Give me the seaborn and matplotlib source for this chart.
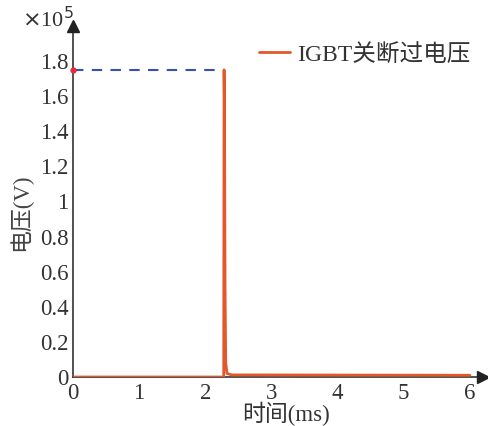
import matplotlib
matplotlib.use("Agg")
import matplotlib.pyplot as plt
import seaborn as sns
import numpy as np
import pandas as pd

# Data (time in ms, voltage in 1e5 V)
time_ms = [0.0, 2.28, 2.285, 2.29, 2.295, 2.30, 2.31, 2.33, 2.40, 6.0]
voltage = [0.0, 0.0, 1.75, 1.6, 1.1, 0.5, 0.08, 0.02, 0.012, 0.01]
peak_time = [0.0, 2.285]
peak_level = [1.75, 1.75]
xticks = [0, 1, 2, 3, 4, 5, 6]
yticks = [0, 0.2, 0.4, 0.6, 0.8, 1, 1.2, 1.4, 1.6, 1.8]
ytick_labels = ["0", "0.2", "0.4", "0.6", "0.8", "1", "1.2", "1.4", "1.6", "1.8"]

sns.set_style("white")
plt.rcParams['font.family'] = ['Liberation Serif', 'Noto Sans CJK SC']
plt.rcParams['axes.unicode_minus'] = False

fig = plt.figure(figsize=(4.89, 4.26), dpi=100)
ax = fig.add_axes([0.149, 0.115, 0.839, 0.824])

df = pd.DataFrame({"t": time_ms, "v": voltage})
sns.lineplot(data=df, x="t", y="v", ax=ax, color="#E4572A", lw=2.0,
             label="IGBT关断过电压", zorder=3)
ax.plot(peak_time, peak_level, linestyle=(0, (5, 4)), color="#3A50B0", lw=1.5, zorder=2)
ax.plot([0], [1.75], "o", color="#E8283C", ms=3.5, clip_on=False, zorder=5)

ax.set_xlim(0, 6.2)
ax.set_ylim(0, 2.0)
ax.set_xticks(xticks)
ax.set_xticklabels([str(x) for x in xticks])
ax.set_yticks(yticks)
ax.set_yticklabels(ytick_labels)

for s in ["top", "right"]:
    ax.spines[s].set_visible(False)
for s in ["left", "bottom"]:
    ax.spines[s].set_color("#333333")
    ax.spines[s].set_linewidth(1.2)

ax.tick_params(axis="both", direction="in", length=4, width=1, color="#333333",
               labelsize=16.5, labelcolor="#333333", pad=3)
ax.tick_params(axis="x", pad=4)

# Arrows at axis ends
ax.plot(1, 0, ">", color="#222222", ms=9, transform=ax.transAxes, clip_on=False, zorder=6)
ax.plot(0, 1, "^", color="#222222", ms=9, transform=ax.transAxes, clip_on=False, zorder=6)

ax.set_xlabel("时间(ms)", fontsize=16.5, color="#333333")
ax.xaxis.set_label_coords(0.52, -0.07)
ax.set_ylabel("电压(V)", fontsize=16.5, color="#444444")
ax.yaxis.set_label_coords(-0.10, 0.47)

fig.text(0.045, 0.955, r"$\times$10$^5$", fontsize=16, color="#333333", va="center")

leg = ax.legend(loc="upper right", bbox_to_anchor=(1.02, 1.01), frameon=False,
                fontsize=17, handlelength=1.3, handletextpad=0.3)
for t in leg.get_texts():
    t.set_color("#333333")

fig.savefig("out.png", dpi=100)
